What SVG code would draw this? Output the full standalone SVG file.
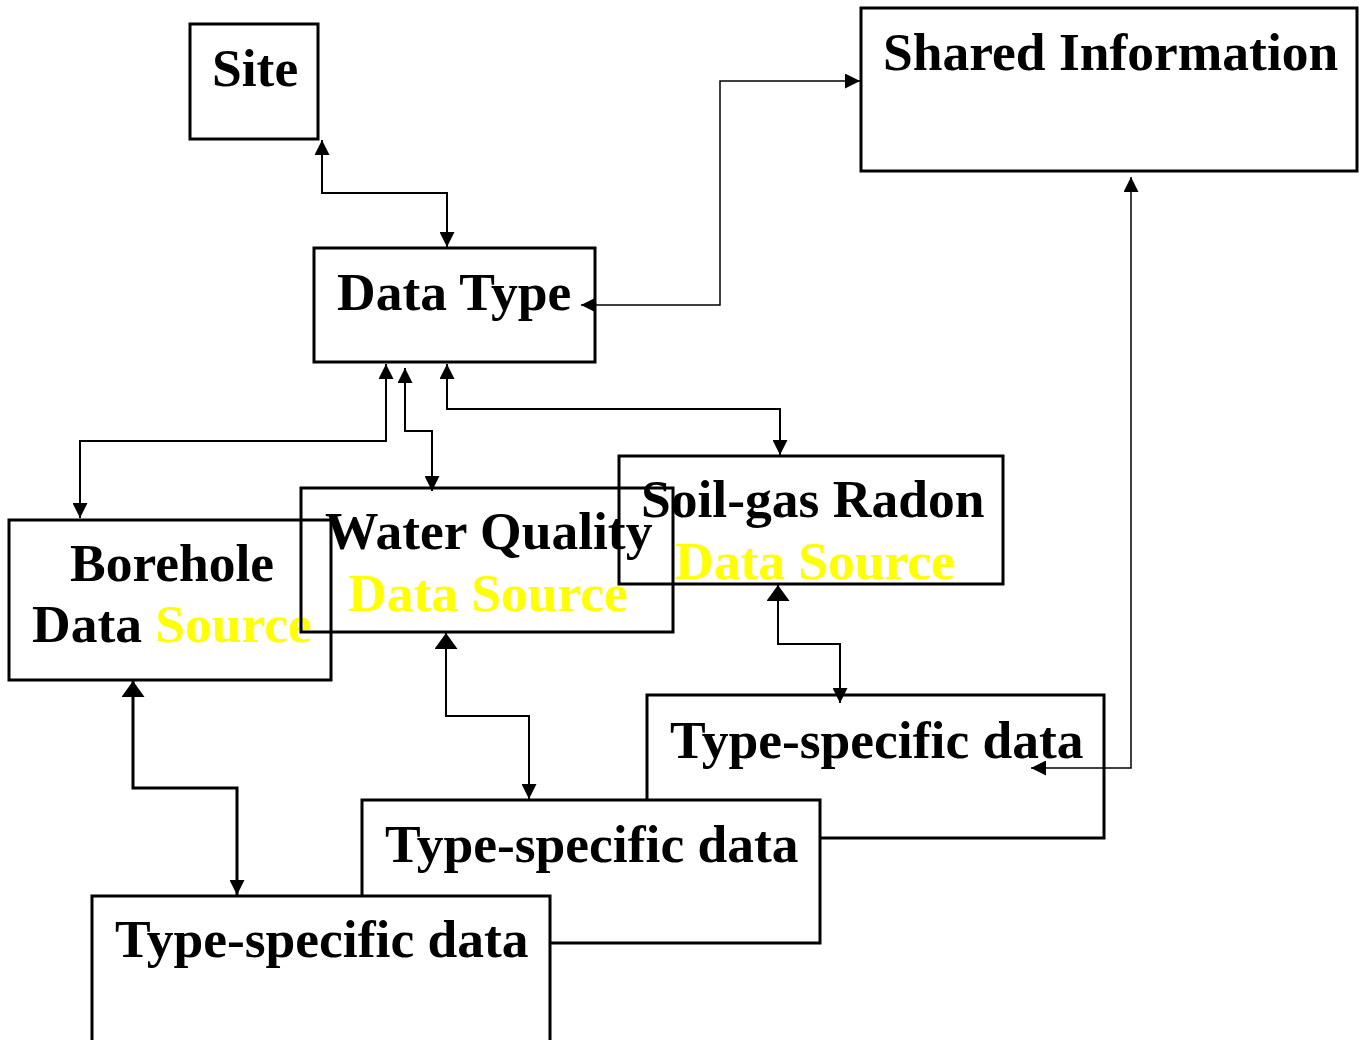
<svg xmlns="http://www.w3.org/2000/svg" width="1359" height="1040" viewBox="0 0 1359 1040">
<style>
.box{fill:none;stroke:#000;stroke-width:3}
.wbox{fill:#fff;stroke:#000;stroke-width:3}
.t{font-family:"Liberation Serif","Times New Roman",serif;font-weight:bold;font-size:53.5px;fill:#000}
.y{fill:#ffff00}
.c{fill:none;stroke:#000;stroke-width:2;marker-start:url(#ah);marker-end:url(#ah)}
.thin{stroke-width:1.5}
.big{marker-start:url(#ahb)}
.thick{stroke-width:3}
</style>
<defs>
<marker id="ah" viewBox="0 0 15 15" refX="15" refY="7.5" markerWidth="15" markerHeight="15" markerUnits="userSpaceOnUse" orient="auto-start-reverse"><path d="M0,0 L15,7.5 L0,15 z" fill="#000"/></marker>
<marker id="ahb" viewBox="0 0 16 23" refX="16" refY="11.5" markerWidth="16" markerHeight="23" markerUnits="userSpaceOnUse" orient="auto-start-reverse"><path d="M0,0 L16,11.5 L0,23 z" fill="#000"/></marker>
</defs>
<rect width="1359" height="1040" fill="#fff"/>
<g id="site"><rect class="box" x="190" y="24" width="128" height="115"/><text class="t" x="212" y="86">Site</text></g>
<g id="shared"><rect class="box" x="861" y="8" width="496" height="163"/><text class="t" x="883" y="70">Shared Information</text></g>
<g id="datatype"><rect class="box" x="314" y="248" width="281" height="114"/><text class="t" x="337" y="310">Data Type</text></g>
<g id="borehole"><rect class="box" x="9" y="520" width="322" height="160"/><text class="t" x="70" y="581">Borehole</text><text class="t" x="32" y="642">Data <tspan class="y">Source</tspan></text></g>
<g id="water"><rect class="box" x="301" y="488" width="372" height="144"/><text class="t" x="325" y="549">Water Quality</text><text class="t y" x="348" y="611">Data Source</text></g>
<g id="soilgas"><rect class="box" x="619" y="456" width="384" height="128"/><text class="t" x="641" y="517">Soil-gas Radon</text><text class="t y" x="675" y="579">Data Source</text></g>
<g id="ts-soil"><rect class="wbox" x="647" y="695" width="457" height="143"/><text class="t" x="670" y="758">Type-specific data</text></g>
<g id="ts-water"><rect class="wbox" x="362" y="800" width="458" height="143"/><text class="t" x="385" y="862">Type-specific data</text></g>
<g id="ts-borehole"><rect class="wbox" x="92" y="896" width="458" height="150"/><text class="t" x="115" y="957">Type-specific data</text></g>
<g id="connectors">
<path class="c" d="M322,140 V193 H447 V247"/>
<path class="c thin" d="M581,305 H720 V81 H860"/>
<path class="c" d="M386,364 V441 H80 V518"/>
<path class="c" d="M405,368 V431 H432 V491"/>
<path class="c" d="M447,364 V409 H780 V455"/>
<path class="c big" d="M778,585 V644 H840 V703"/>
<path class="c big" d="M446,633 V716 H529 V799"/>
<path class="c big thick" d="M133,681 V788 H237 V895"/>
<path class="c thin" d="M1131,177 V768 H1031"/>
</g>
</svg>
